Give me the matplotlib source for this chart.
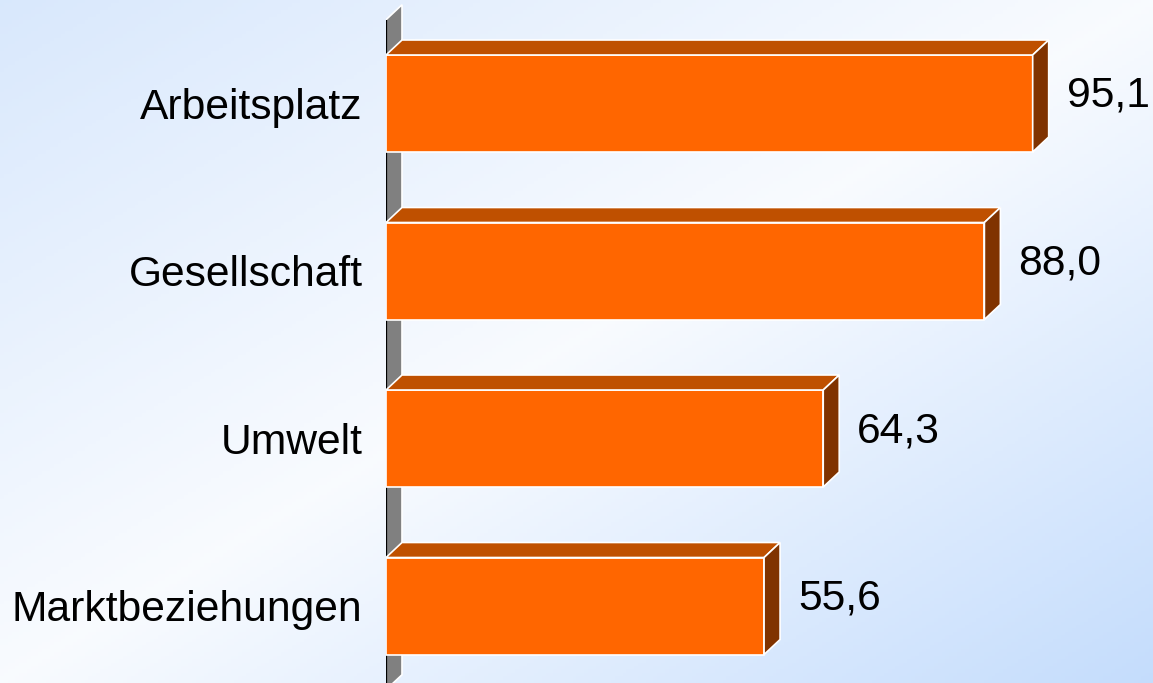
"""Horizontal 3D-style bar chart with gradient background."""
import numpy as np
import matplotlib
matplotlib.use("Agg")
import matplotlib.pyplot as plt
from matplotlib.patches import Polygon

plt.rcParams['font.family'] = ['Liberation Sans', 'DejaVu Sans']

categories = ["Arbeitsplatz", "Gesellschaft", "Umwelt", "Marktbeziehungen"]
values = [95.1, 88.0, 64.3, 55.6]

color_front = "#FF6600"
color_top = "#BF5000"
color_side = "#803300"
color_wall = "#808080"

W, H = 1153, 683
x0_px = 386          # position of the value axis
px_per_x = 6.8       # pixels per value unit
px_per_cat = 167.5   # pixels between categories
first_px = 103.5     # centre of first bar

fig = plt.figure(figsize=(W / 100, H / 100), dpi=100)

# background gradient (blue in the corners, white along the diagonal)
bg = fig.add_axes([0, 0, 1, 1])
yy, xx = np.mgrid[0:1:200j, 0:1:300j]
t = (xx + yy) / 2
c_tl = np.array([0.85, 0.91, 0.99])
c_mid = np.array([0.975, 0.985, 1.0])
c_br = np.array([0.77, 0.865, 0.99])
w1 = np.clip(1 - t / 0.5, 0, 1)[..., None]
w2 = np.clip((t - 0.5) / 0.5, 0, 1)[..., None]
img = c_mid + w1 * (c_tl - c_mid) + w2 * (c_br - c_mid)
bg.imshow(img, extent=[0, 1, 0, 1], aspect='auto', origin='upper')
bg.set_axis_off()

ax = fig.add_axes([x0_px / W, 0, (W - x0_px) / W, 1])
ax.patch.set_alpha(0)
ax.set_xlim(0, (W - x0_px) / px_per_x)
ax.set_ylim((H - first_px) / px_per_cat, -first_px / px_per_cat)

n = len(categories)
ypos = np.arange(n)
bh = 97 / px_per_cat
dx = 16 / px_per_x
dy = 15 / px_per_cat

# gray wall
wall_top, wall_bot = -0.5, n - 0.5
ax.add_patch(Polygon([(0, wall_bot), (0, wall_top), (dx, wall_top - dy),
                      (dx, wall_bot - dy)], closed=True, facecolor=color_wall,
                     edgecolor="white", linewidth=1.2, zorder=1))
ax.plot([0, 0], [wall_top, wall_bot], color="black", linewidth=1.6,
        zorder=2, solid_capstyle='butt')

# bars
ax.barh(ypos, values, height=bh, color=color_front, edgecolor="white",
        linewidth=1.2, zorder=3)
for y, v in zip(ypos, values):
    top = y - bh / 2
    bot = y + bh / 2
    ax.add_patch(Polygon([(0, top), (dx, top - dy), (v + dx, top - dy),
                          (v, top)], closed=True, facecolor=color_top,
                         edgecolor="white", linewidth=1.2, zorder=3))
    ax.add_patch(Polygon([(v, top), (v + dx, top - dy), (v + dx, bot - dy),
                          (v, bot)], closed=True, facecolor=color_side,
                         edgecolor="white", linewidth=1.2, zorder=3))
    ax.text(v + dx + 18 / px_per_x, y - dy / 2,
            "{:.1f}".format(v).replace(".", ","), fontsize=30.7,
            va="center", ha="left", color="black", zorder=4)

ax.set_yticks(ypos)
ax.set_yticklabels(categories, fontsize=30.7)
ax.tick_params(axis='y', length=0, pad=17)
ax.set_xticks([])
for s in ax.spines.values():
    s.set_visible(False)

fig.savefig("out.png", dpi=100)
